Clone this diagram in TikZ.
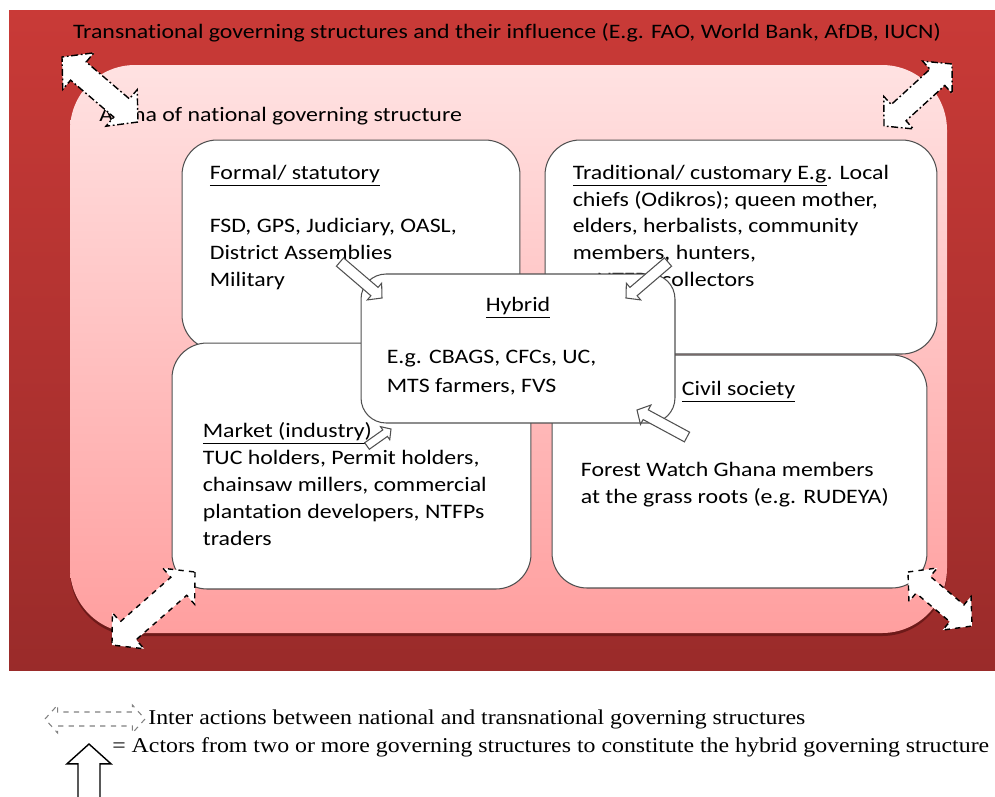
\documentclass[tikz,border=0pt]{standalone}
\usepackage{fontspec}
\setmainfont{Carlito}[FakeStretch=1.16, Ligatures=NoCommon]
\newfontfamily\legendfont{Liberation Serif}[FakeStretch=1.13]
\usetikzlibrary{calc, positioning}

\definecolor{transtop}{HTML}{C93A37}
\definecolor{transbot}{HTML}{9A2B2A}
\definecolor{arenatop}{HTML}{FFE2E2}
\definecolor{arenabot}{HTML}{FF9F9F}
\definecolor{arenashadow}{HTML}{6E1A19}
\definecolor{boxline}{HTML}{505050}

% block arrow from #2 (tail) to #3 (tip), #4 = half width of the shaft
\newcommand{\blockarrow}[4][]{%
  \coordinate (ba-h) at ($(#3)!1.8*#4!(#2)$);
  \draw[#1] ($(#2)!#4!90:(#3)$) -- ($(ba-h)!#4!90:(#3)$) -- ($(ba-h)!2*#4!90:(#3)$)
    -- (#3) -- ($(ba-h)!2*#4!-90:(#3)$) -- ($(ba-h)!#4!-90:(#3)$)
    -- ($(#2)!#4!-90:(#3)$) -- cycle;}
% block arrow with a head at both ends
\newcommand{\doublearrow}[4][]{%
  \coordinate (da-a) at ($(#2)!1.8*#4!(#3)$);
  \coordinate (da-b) at ($(#3)!1.8*#4!(#2)$);
  \draw[#1] (#2) -- ($(da-a)!2*#4!90:(#3)$) -- ($(da-a)!#4!90:(#3)$)
    -- ($(da-b)!#4!90:(#3)$) -- ($(da-b)!2*#4!90:(#3)$) -- (#3)
    -- ($(da-b)!2*#4!-90:(#3)$) -- ($(da-b)!#4!-90:(#3)$)
    -- ($(da-a)!#4!-90:(#3)$) -- ($(da-a)!2*#4!-90:(#3)$) -- cycle;}

\begin{document}
\begin{tikzpicture}[x=0.02cm, y=-0.02cm,
  box/.style={draw=boxline, fill=white, rounded corners=0.7cm, line width=0.6pt},
  txt/.style={align=left, inner sep=0pt, font=\fontsize{11.7}{15.3}\selectfont},
  hybarrow/.style={draw=boxline, fill=white, line width=0.6pt},
  interarrow/.style={draw=black, fill=white, line width=0.8pt,
    dash pattern=on 4pt off 1.5pt on 1pt off 1.5pt},
  interarrowb/.style={draw=black, fill=white, line width=0.8pt, dashed},
  legend/.style={inner sep=0pt, font=\legendfont\fontsize{12}{14}\selectfont}
]
\useasboundingbox (0,0) rectangle (995,796);

% transnational and national arenas
\path[top color=transtop, bottom color=transbot] (9,10) rectangle (995,670);
\path[fill=arenashadow, rounded corners=1.3cm] (70,68) rectangle (947,636);
\path[top color=arenatop, bottom color=arenabot, rounded corners=1.3cm]
  (70,65) rectangle (947,633);

\node[txt] (transtitle) at (507,33)
  {Transnational governing structures and their influence (E.g. FAO, World Bank, AfDB, IUCN)};
\node[txt, anchor=west] (arenatitle) at (99,116)
  {Arena of national governing structure};

% governing structures
\node[box, minimum width=6.76cm, minimum height=4.2cm] (formal) at (351,245) {};
\node[txt, anchor=north west] (formaltxt) at ($(formal.north west)+(28,25)$)
  {\underline{Formal/ statutory}\\[15.3pt]
   FSD, GPS, Judiciary, OASL,\\ District Assemblies\\ Military};

\node[box, minimum width=7.84cm, minimum height=4.28cm] (trad) at (741,247) {};
\node[txt, anchor=north west] (tradtxt) at ($(trad.north west)+(28,25)$)
  {\underline{Traditional/ customary E.g}. Local\\ chiefs (Odikros); queen mother,\\
   elders, herbalists, community\\ members, hunters,\\ \hspace*{0.48cm}NTFPs collectors};

\node[box, minimum width=7.18cm, minimum height=4.92cm] (market) at (351.5,466) {};
\node[txt, anchor=north west] (markettxt) at ($(market.north west)+(31,80)$)
  {\underline{Market (industry)}\\ TUC holders, Permit holders,\\
   chainsaw millers, commercial\\ plantation developers, NTFPs\\ traders};

\node[box, minimum width=7.5cm, minimum height=4.66cm] (civil) at (739.5,471.5) {};
\node[txt, anchor=north west] (civiltitle) at ($(civil.north west)+(130,26)$)
  {\underline{Civil society}};
\node[txt, anchor=north west] (civiltxt) at ($(civil.north west)+(29,107)$)
  {Forest Watch Ghana members\\ at the grass roots (e.g. RUDEYA)};

\node[box, rounded corners=0.5cm, minimum width=6.28cm, minimum height=2.98cm]
  (hybrid) at (518,348.5) {};
\node[txt, anchor=north] (hybridtitle) at ($(hybrid.north)+(0,23)$) {\underline{Hybrid}};
\node[txt, anchor=north west, font=\fontsize{11.7}{16.4}\selectfont] (hybridtxt)
  at ($(hybrid.north west)+(26,76)$) {E.g. CBAGS, CFCs, UC,\\ MTS farmers, FVS};

% actors joining the hybrid structure
\coordinate (fh-a) at (340,262); \coordinate (fh-b) at (382,298);
\coordinate (th-a) at (668,262); \coordinate (th-b) at (626,298);
\coordinate (mh-a) at (367,446); \coordinate (mh-b) at (391,429);
\coordinate (ch-a) at (687,437); \coordinate (ch-b) at (637,410);
\blockarrow[hybarrow]{fh-a}{fh-b}{0.11cm}
\blockarrow[hybarrow]{th-a}{th-b}{0.11cm}
\blockarrow[hybarrow]{mh-a}{mh-b}{0.08cm}
\blockarrow[hybarrow]{ch-a}{ch-b}{0.11cm}

% national <-> transnational interactions
\coordinate (tl-a) at (138,122); \coordinate (tl-b) at (62,57);
\coordinate (tr-a) at (884,126); \coordinate (tr-b) at (952,64);
\coordinate (bl-a) at (195,572); \coordinate (bl-b) at (112,645);
\coordinate (br-a) at (908,572); \coordinate (br-b) at (972,626);
\doublearrow[interarrow]{tl-a}{tl-b}{0.24cm}
\doublearrow[interarrow]{tr-a}{tr-b}{0.22cm}
\doublearrow[interarrowb]{bl-a}{bl-b}{0.24cm}
\doublearrow[interarrowb]{br-a}{br-b}{0.22cm}

% legend
\coordinate (leg1-a) at (45,719); \coordinate (leg1-b) at (145,719);
\doublearrow[draw=gray, fill=white, dashed, line width=0.6pt]{leg1-a}{leg1-b}{0.14cm}
\node[legend, anchor=west] (legtxt1) at (148,719)
  {Inter actions between national and transnational governing structures};
\coordinate (leg2-a) at (89,802); \coordinate (leg2-b) at (89,744);
\blockarrow[draw=black, fill=white, line width=0.8pt]{leg2-a}{leg2-b}{0.22cm}
\node[legend, anchor=west] (legtxt2) at (112,747)
  {= Actors from two or more governing structures to constitute the hybrid governing structure};
\end{tikzpicture}
\end{document}
